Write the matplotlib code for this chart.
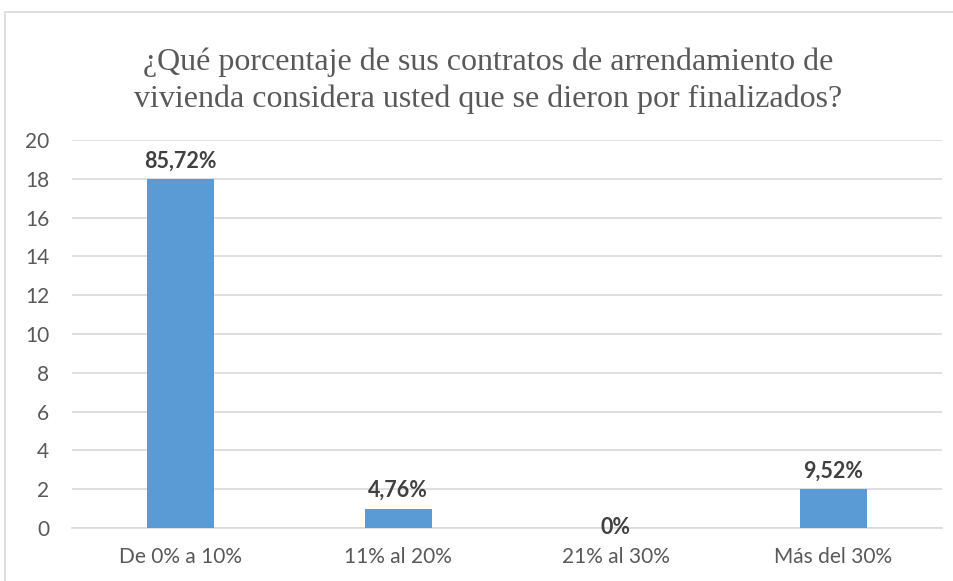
import matplotlib.pyplot as plt
from matplotlib.patches import Rectangle

categories = ['De 0% a 10%', '11% al 20%', '21% al 30%', 'Más del 30%']
values = [18, 1, 0, 2]
labels = ['85,72%', '4,76%', '0%', '9,52%']
title = '¿Qué porcentaje de sus contratos de arrendamiento de\nvivienda considera usted que se dieron por finalizados?'

plt.rcParams['font.family'] = ['Lato', 'DejaVu Sans']
text_color = '#595959'

fig = plt.figure(figsize=(9.54, 5.81), dpi=100)
W, H = 954, 581
ax = fig.add_axes([72 / W, 1 - 528 / H, (942 - 72) / W, (528 - 140) / H])

# chart frame (cropped at right and bottom)
fig.patches.append(Rectangle((5 / W, -0.05), 1.1, 1 - 12 / H + 0.05, transform=fig.transFigure,
                             fill=False, edgecolor='#d9d9d9', linewidth=1.2))

x = range(len(categories))
ax.bar(x, values, width=0.31, color='#5B9BD5', zorder=3)

for i, (v, lab) in enumerate(zip(values, labels)):
    off = 18 if v > 0 else 0
    ax.annotate(lab, (i, v), xytext=(0, off), textcoords='offset pixels',
                ha='center', va='center', fontsize=15.5, fontweight='bold', color='#404040',
                zorder=4)

ax.set_xlim(-0.5, 3.5)
ax.set_ylim(0, 20)
ax.set_yticks(range(0, 21, 2))
ax.set_xticks(list(x))
ax.set_xticklabels(categories)
ax.tick_params(axis='both', length=0, labelsize=15, labelcolor=text_color)
ax.tick_params(axis='y', pad=16.5)
ax.tick_params(axis='x', pad=14)
ax.grid(axis='y', color='#d9d9d9', linewidth=1.2, zorder=0)
for s in ['top', 'right', 'left']:
    ax.spines[s].set_visible(False)
ax.spines['bottom'].set_color('#d9d9d9')
ax.spines['bottom'].set_linewidth(1.2)

fig.text(488 / W, 1 - 81 / H, title, ha='center', va='center', fontsize=23,
         family='Liberation Serif', color=text_color, linespacing=1.32)

fig.savefig('out.png', dpi=100)
